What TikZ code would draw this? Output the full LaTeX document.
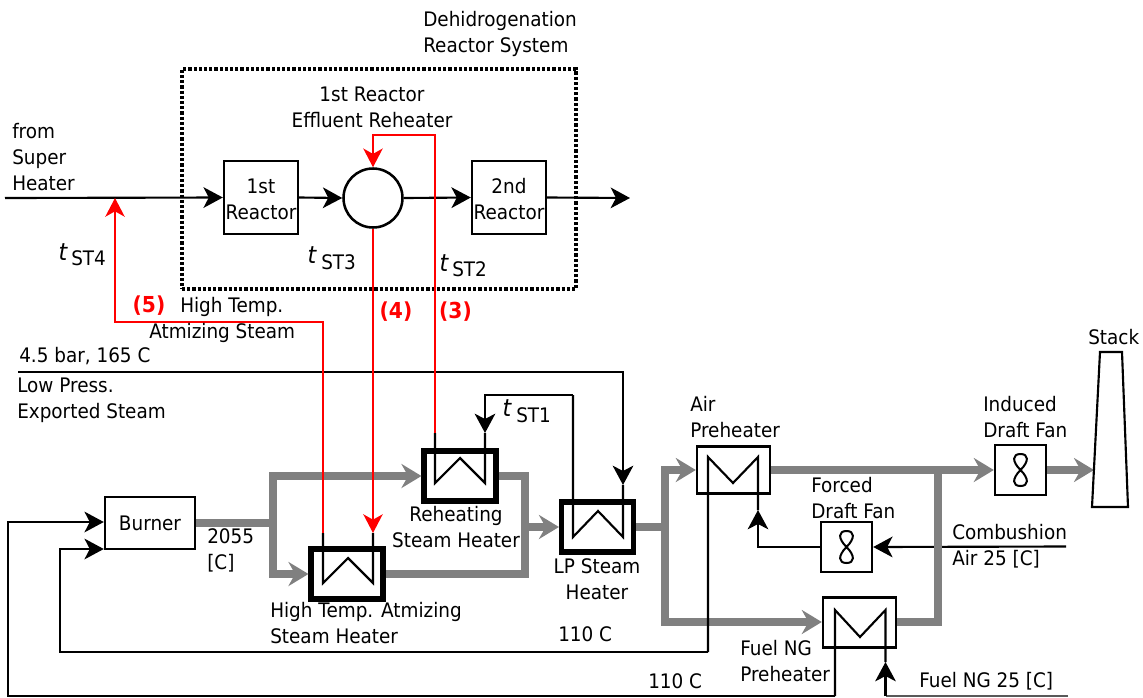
\documentclass[tikz,border=0pt]{standalone}
\usepackage{fontspec}
\setmainfont[FakeStretch=0.92]{DejaVu Sans}
\usetikzlibrary{arrows.meta,calc}
\definecolor{pipegray}{HTML}{808080}
\definecolor{pipered}{HTML}{FF0000}
\tikzset{
  px/.style={x=0.75pt,y=-0.75pt},
  lbl/.style={inner sep=0pt,anchor=west,align=left,font=\fontsize{15}{19.5}\selectfont},
  clbl/.style={inner sep=0pt,align=center,font=\fontsize{15}{19.5}\selectfont},
  rlbl/.style={inner sep=0pt,text=pipered,font=\fontsize{16.5}{19.5}\selectfont\bfseries},
  tlbl/.style={inner sep=0pt,font=\fontsize{18}{20}\selectfont\itshape},
  boxn/.style={draw,line width=1.8pt,inner sep=0pt,align=center,font=\fontsize{15}{19.5}\selectfont},
  thinbox/.style={boxn,minimum width=38.25pt,minimum height=37.5pt},
  heatbox/.style={draw,line width=3.8pt,minimum width=54pt,minimum height=37.5pt,inner sep=0pt},
  airbox/.style={draw,line width=1.8pt,minimum width=54.75pt,minimum height=35.25pt,inner sep=0pt},
  bk/.style={draw,line width=1.6pt,miter limit=10},
  blka/.style={bk,-{Stealth[length=14.5pt,width=15.5pt,inset=4pt]}},
  reda/.style={draw=pipered,line width=1.6pt,-{Stealth[length=14pt,width=14.5pt,inset=4pt,fill=pipered]}},
  gr/.style={draw=pipegray,line width=5.6pt},
  gra/.style={gr,-{Stealth[length=15pt,width=18pt,inset=5pt,fill=pipegray]}},
}
\begin{document}
\begin{tikzpicture}[px]
\useasboundingbox (0,0) rectangle (1143,697);
% dotted frame
\node[draw,line width=3pt,dash pattern=on 2.4pt off 1.5pt,minimum width=295.5pt,minimum height=165pt,inner sep=0pt] (frame) at (379,179) {};
% equipment
\node[boxn,minimum width=55.5pt,minimum height=54.75pt] (r1) at (261,197.5) {};
\node[boxn,minimum width=55.5pt,minimum height=54.75pt] (r2) at (509,197.5) {};
\node[draw,circle,line width=1.9pt,minimum size=44.25pt,inner sep=0pt] (reheat) at (373,198) {};
\node[boxn,minimum width=67.5pt,minimum height=39pt] (burner) at (150,523) {Burner};
\node[heatbox] (hr) at (460,476) {};
\node[heatbox] (hh) at (347,574) {};
\node[heatbox] (hl) at (597.5,527) {};
\node[airbox] (ap) at (733.5,470) {};
\node[airbox,minimum height=37.5pt] (fp) at (859.5,622.5) {};
\node[thinbox] (ff) at (846.5,547) {};
\node[thinbox] (idf) at (1020.5,470) {};
% coordinates
\coordinate (in) at (5,198);
\coordinate (out) at (630,198);
\coordinate (mix) at (115,198);
\coordinate (j1) at (273,523);
\coordinate (j1t) at (273,476);
\coordinate (j1b) at (273,574);
\coordinate (j2) at (525,527);
\coordinate (j2t) at (525,476);
\coordinate (j2b) at (525,574);
\coordinate (j3) at (665,527);
\coordinate (j3t) at (665,470);
\coordinate (j3b) at (665,622);
\coordinate (j4) at (938,470);
\coordinate (j4b) at (938,622);
\coordinate (st) at (1094,470);
\coordinate (rl) at (435,433);
\coordinate (rr) at (485,433);
\coordinate (hl1) at (323,533);
\coordinate (hr1) at (373,533);
\coordinate (ll) at (573,395);
\coordinate (lr) at (623,485);
\coordinate (apl) at (708,652);
\coordinate (apr) at (758,510);
\coordinate (fpl) at (835,696);
\coordinate (fpr) at (885.5,662);
\coordinate (fpb) at (885.5,696);
\coordinate (fng) at (1068,696);
\coordinate (air) at (1066,546.5);
% gray flue lines
\draw[gr] (burner.east |- j1) -- (j1);
\draw[gr,line cap=rect] (j1t) -- (j1b);
\draw[gra] (j1t) -- (hr.west);
\draw[gra] (j1b) -- (hh.west);
\draw[gr,line join=miter] (hr.east) -- (j2t) -- (j2b) -- (hh.east);
\draw[gra] (j2) -- (hl.west);
\draw[gr] (hl.east) -- (j3);
\draw[gr,line cap=rect] (j3t) -- (j3b);
\draw[gra] (j3t) -- (ap.west);
\draw[gra] (j3b) -- (fp.west |- j3b);
\draw[gra] (ap.east) -- (idf.west);
\draw[gra] (idf.east) -- (st);
% black process line under gray riser
\draw[blka] (air) -- (ff.east);
\draw[gr,line join=miter] (j4) -- (j4b) -- (fp.east |- j4b);
% stack
\draw[bk,line join=miter] (1100,352) -- (1122,352) -- (1128,507) -- (1092,507) -- cycle;
% steam main
\draw[blka] (in) -- (r1.west);
\draw[blka] (r1.east) -- (reheat.west);
\draw[blka] (reheat.east) -- (r2.west);
\draw[blka] (r2.east) -- (out);
% heater coils
\draw[bk,line join=miter] (rl) -- (435,483) -- (460,458) -- (485,483) -- (rr);
\draw[bk,line join=miter] (hl1) -- (323,583) -- (348,558) -- (373,583) -- (hr1);
\draw[bk,line join=miter] (ll) -- (573,537) -- (598,511) -- (623,537) -- (lr);
\draw[bk,line join=miter] (apl) -- (708,457) -- (733,483) -- (758,457) -- (apr);
\draw[bk,line join=miter] (fpl) -- (835,610) -- (860,637) -- (885.5,610) -- (fpr);
% black feeders
\coordinate (c45l) at (18,372);
\coordinate (c45r) at (623,372);
\draw[blka] (c45l) -- (c45r) -- (lr);
\coordinate (c1a) at (485,395);
\draw[blka] (ll) -- (c1a) -- (rr);
\coordinate (fc) at (758,547);
\draw[blka] (ff.west) -- (fc) -- (apr);
\coordinate (l60b) at (60,652);
\coordinate (l60t) at (60,549);
\draw[blka] (apl) -- (l60b) -- (l60t) -- (burner.west |- l60t);
\coordinate (l8b) at (8,696);
\coordinate (l8t) at (8,522);
\draw[blka] (fpl) -- (l8b) -- (l8t) -- (burner.west |- l8t);
\draw[draw=black!65,line width=0.9pt] (fng) -- (fpb);
\draw[blka] (fpb) -- (fpr);
% red steam lines
\coordinate (rc1) at (435,135);
\coordinate (rc2) at (373,135);
\draw[reda] (rl) -- (rc1) -- (rc2) -- (reheat.north);
\draw[reda] (reheat.south) -- (hr1);
\coordinate (rc3) at (323,322);
\coordinate (rc4) at (115,322);
\draw[reda] (hl1) -- (rc3) -- (rc4) -- (mix);
% fans
\foreach \f in {ff,idf}{
  \draw[line width=1.5pt] (\f.center) .. controls +(9,-9) and +(8,0) .. ++(0,-16)
     .. controls +(-8,0) and +(-9,-9) .. ++(0,16)
     .. controls +(9,9) and +(8,0) .. ++(0,16)
     .. controls +(-8,0) and +(-9,9) .. ++(0,-16);
}
% labels
\node[lbl] (t1) at (423,34) {Dehidrogenation\\Reactor System};
\node[clbl] (t2) at (372,107) {1st Reactor\\Effluent Reheater};
\node[lbl] (t3) at (12,157) {from\\Super\\Heater};
\node[clbl] (t4) at (261,199) {1st\\Reactor};
\node[clbl] (t5) at (509,199) {2nd\\Reactor};
\node[tlbl] (t6) at (63,252) {t};
\node[lbl] (t7) at (71,258) {ST4};
\node[tlbl] (t8) at (312,255) {t};
\node[lbl] (t9) at (321,262) {ST3};
\node[tlbl] (t10) at (444,263) {t};
\node[lbl] (t11) at (452,269) {ST2};
\node[tlbl] (t12) at (507,408) {t};
\node[lbl] (t13) at (516,415) {ST1};
\node[rlbl] (t14) at (149,306) {(5)};
\node[rlbl] (t15) at (396,312) {(4)};
\node[rlbl] (t16) at (455.5,312) {(3)};
\node[lbl] (t17) at (180,307) {High Temp.};
\node[lbl] (t18) at (149,333) {Atmizing Steam};
\node[lbl] (t19) at (19,356) {4.5 bar, 165 C};
\node[lbl] (t20) at (17,400) {Low Press.\\Exported Steam};
\node[lbl] (t21) at (690,417) {Air\\Preheater};
\node[lbl] (t22) at (983,417) {Induced\\Draft Fan};
\node[lbl] (t23) at (1088,337) {Stack};
\node[lbl] (t24) at (811,498) {Forced\\Draft Fan};
\node[lbl] (t25) at (952,546) {Combushion\\Air 25 [C]};
\node[lbl] (t26) at (740,661) {Fuel NG\\Preheater};
\node[lbl] (t27) at (919,681) {Fuel NG 25 [C]};
\node[lbl] (t28) at (558,634) {110 C};
\node[lbl] (t29) at (648,681) {110 C};
\node[lbl] (t30) at (207,550) {2055\\{[C]}};
\node[clbl] (t31) at (456,527) {Reheating\\Steam Heater};
\node[clbl] (t32) at (597,579) {LP Steam\\Heater};
\node[lbl] (t33) at (270,623) {High Temp. Atmizing\\Steam Heater};
\end{tikzpicture}
\end{document}
